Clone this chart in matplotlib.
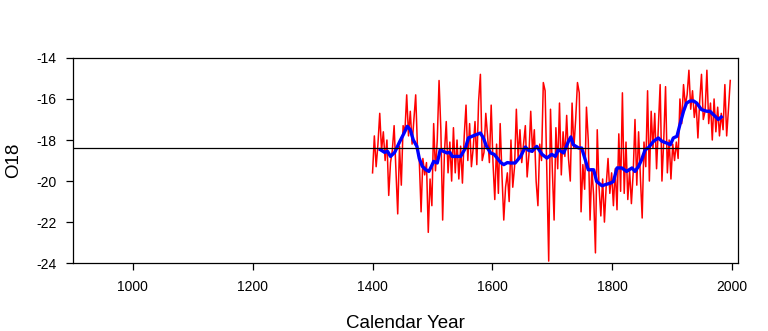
import numpy as np
import matplotlib
matplotlib.use("Agg")
import matplotlib.pyplot as plt

plt.rcParams['font.family'] = ['Liberation Sans', 'DejaVu Sans']
plt.rcParams['axes.unicode_minus'] = False

# raw O18 record, read every 3 years from 1400
redYears = np.arange(1400, 1998, 3)
redO18 = [
    -19.6, -17.8, -19.3, -18.2, -16.7, -18.5, -17.6, -19.0, -18.0, -20.7,
    -19.1, -18.5, -17.3, -19.5, -21.6, -18.3, -20.2, -17.3, -17.6, -15.8,
    -17.8, -16.6, -18.2, -17.0, -15.8, -18.4, -19.0, -21.5, -18.9, -19.7,
    -19.1, -22.5, -19.9, -21.2, -17.2, -19.5, -18.0, -15.1, -17.5, -21.9,
    -18.6, -17.1, -19.6, -18.1, -20.0, -17.4, -19.6, -18.0, -19.9, -18.3,
    -20.1, -17.8, -16.3, -19.0, -17.2, -19.3, -18.4, -17.1, -19.2, -16.1,
    -14.8, -19.0, -18.6, -16.7, -17.8, -19.1, -16.3, -19.1, -20.9, -18.2,
    -20.6, -17.2, -19.7, -21.9, -20.3, -19.6, -21.0, -18.0, -20.3, -19.3,
    -16.5, -18.9, -17.5, -19.1, -18.2, -17.3, -19.8, -18.7, -16.6, -18.6,
    -17.5, -20.0, -21.2, -18.2, -19.0, -15.2, -15.6, -19.8, -23.9, -16.5,
    -19.4, -21.9, -17.4, -19.4, -16.2, -19.7, -17.6, -18.8, -16.8, -18.9,
    -20.0, -16.2, -18.4, -17.0, -15.2, -15.7, -21.5, -19.2, -20.4, -16.4,
    -18.0, -21.9, -19.4, -20.7, -23.5, -17.5, -20.3, -21.7, -19.9, -22.0,
    -20.2, -18.9, -20.6, -19.6, -21.2, -19.4, -21.4, -17.7, -20.5, -15.7,
    -20.6, -18.1, -20.9, -19.5, -21.1, -19.6, -17.0, -20.2, -17.6, -19.8,
    -21.8, -18.1, -19.3, -15.6, -20.0, -16.6, -18.4, -16.7, -19.4, -17.3,
    -15.3, -20.0, -18.0, -15.4, -19.6, -18.0, -19.9, -18.2, -19.0, -18.1,
    -18.9, -16.0, -17.2, -15.3, -16.3, -15.8, -14.6, -16.5, -15.6, -16.9,
    -16.2, -17.9, -16.1, -14.8, -17.0, -16.6, -14.6, -17.2, -16.2, -18.0,
    -16.0, -17.6, -16.4, -17.8, -16.7, -17.5, -15.3, -17.8, -16.5, -15.1,
]

# smoothed curve
blueYears = [
    1413, 1420, 1425, 1430, 1437, 1445, 1452, 1458, 1463, 1468,
    1474, 1478, 1483, 1489, 1494, 1498, 1502, 1508, 1513, 1518,
    1524, 1529, 1533, 1541, 1547, 1555, 1560, 1566, 1572, 1580,
    1585, 1590, 1597, 1603, 1608, 1614, 1619, 1625, 1630, 1638,
    1647, 1655, 1660, 1666, 1674, 1683, 1691, 1699, 1705, 1710,
    1719, 1727, 1731, 1735, 1744, 1749, 1755, 1760, 1769, 1774,
    1783, 1788, 1797, 1802, 1808, 1816, 1824, 1833, 1838, 1844,
    1849, 1855, 1860, 1869, 1877, 1883, 1891, 1897, 1902, 1908,
    1913, 1919, 1924, 1930, 1936, 1941, 1949, 1958, 1963, 1972,
    1977, 1982,
]
blueO18 = [
    -18.47, -18.6, -18.55, -18.8, -18.6, -18.1, -17.7, -17.33, -17.5, -18.0,
    -18.31, -18.9, -19.28, -19.45, -19.53, -19.3, -19.04, -19.12, -18.47, -18.55,
    -18.63, -18.6, -18.8, -18.8, -18.8, -18.39, -17.9, -17.82, -17.75, -17.66,
    -17.9, -18.3, -18.63, -18.7, -18.88, -19.1, -19.2, -19.1, -19.12, -19.12,
    -18.8, -18.34, -18.5, -18.55, -18.31, -18.7, -18.88, -18.7, -18.8, -18.47,
    -18.63, -18.06, -17.85, -18.23, -18.39, -18.39, -18.96, -19.45, -19.45, -20.02,
    -20.23, -20.18, -20.1, -20.02, -19.36, -19.36, -19.53, -19.36, -19.53, -19.28,
    -18.96, -18.47, -18.39, -18.06, -17.9, -18.06, -18.15, -18.23, -17.9, -17.82,
    -17.25, -16.6, -16.2, -16.1, -16.1, -16.2, -16.52, -16.6, -16.6, -16.85,
    -17.0, -16.88,
]

meanO18 = -18.39

xTicks = [1000, 1200, 1400, 1600, 1800, 2000]
yTicks = [-24, -22, -20, -18, -16, -14]

fig = plt.figure(figsize=(7.68, 3.31), dpi=100)
ax = fig.add_axes([0.095, 0.205, 0.866, 0.62])

ax.plot(redYears, redO18, color='#ff0000', lw=1.1)
ax.plot(blueYears, blueO18, color='#0000ff', lw=2.4)
ax.axhline(meanO18, color='black', lw=0.9)

ax.set_xlim(900, 2010)
ax.set_ylim(-24, -14)
ax.set_xticks(xTicks)
ax.set_yticks(yTicks)
ax.tick_params(direction='out', length=5, width=0.9, labelsize=10, pad=7)
for side in ax.spines.values():
    side.set_linewidth(0.9)

ax.set_xlabel('Calendar Year', fontsize=13.5, labelpad=15)
ax.set_ylabel('O18', fontsize=13.5, labelpad=10)

fig.savefig('out.png', dpi=100)
